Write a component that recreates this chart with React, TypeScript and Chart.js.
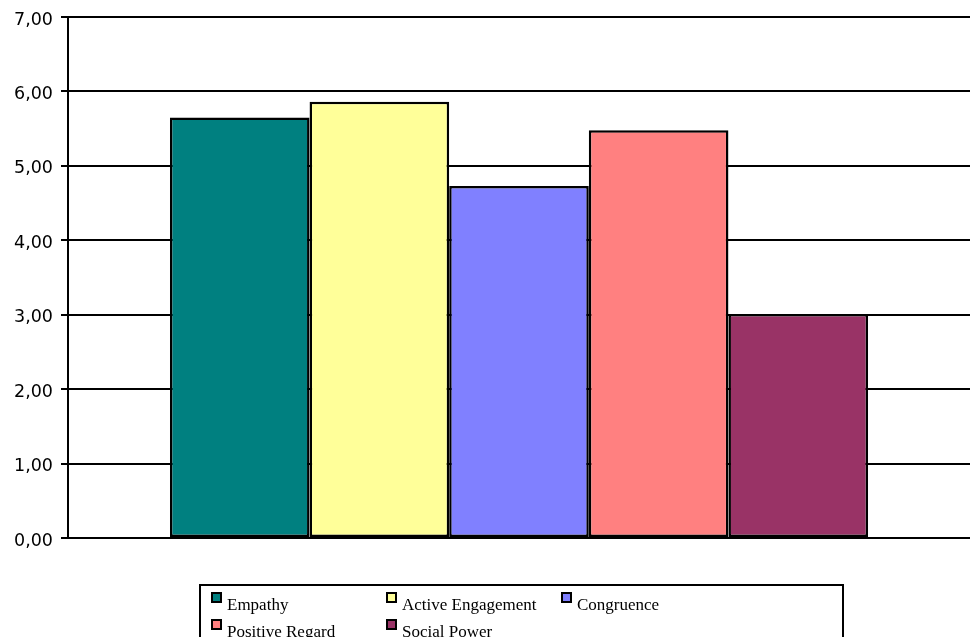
import React, { useEffect, useRef } from "react";
import { Chart, registerables } from "chart.js";

Chart.register(...registerables);

const categories = [""];
const seriesNames = ["Empathy", "Active Engagement", "Congruence", "Positive Regard", "Social Power"];
const seriesValues = [5.65, 5.86, 4.73, 5.48, 3.01];
const seriesColors = ["#008080", "#FFFF99", "#8080FF", "#FF8080", "#993366"];
const yTicks = [0, 1, 2, 3, 4, 5, 6, 7];

const formatTick = (v: number) => v.toFixed(2).replace(".", ",");

// Y value labels, set just right of the tick marks and a little below each gridline
const yLabels = {
  id: "yLabels",
  afterDraw(chart: any) {
    const ctx = chart.ctx as CanvasRenderingContext2D;
    const scale = chart.scales.y;
    ctx.save();
    ctx.font = "17.5px 'DejaVu Sans', sans-serif";
    ctx.fillStyle = "#000";
    ctx.textAlign = "right";
    ctx.textBaseline = "middle";
    scale.ticks.forEach((t: any) => {
      const y = scale.getPixelForValue(t.value);
      ctx.fillText(formatTick(t.value), scale.right - 15, y + 3);
    });
    ctx.restore();
  },
};

// Boxed legend below the plot, three items per row
const boxLegend = {
  id: "boxLegend",
  afterDraw(chart: any) {
    const ctx = chart.ctx as CanvasRenderingContext2D;
    const area = chart.chartArea;
    const left = 200;
    const right = 843;
    const top = area.bottom + 47;
    const bottom = chart.height + 1;
    ctx.save();
    ctx.strokeStyle = "#000";
    ctx.lineWidth = 2;
    ctx.strokeRect(left, top, right - left, bottom - top);

    ctx.font = "17px 'Liberation Serif', 'Times New Roman', serif";
    ctx.textBaseline = "alphabetic";
    const colW = 175;
    const rowH = 27;
    chart.data.datasets.forEach((ds: any, i: number) => {
      const col = i % 3;
      const row = Math.floor(i / 3);
      const mx = left + 12 + col * colW;
      const my = top + 8 + row * rowH;
      ctx.fillStyle = ds.backgroundColor;
      ctx.fillRect(mx, my, 9, 9);
      ctx.lineWidth = 2;
      ctx.strokeStyle = "#000";
      ctx.strokeRect(mx, my, 9, 9);
      ctx.fillStyle = "#000";
      ctx.fillText(ds.label, mx + 15, my + 17);
    });
    ctx.restore();
  },
};

export default function App() {
  const canvasRef = useRef<HTMLCanvasElement | null>(null);

  useEffect(() => {
    if (!canvasRef.current) return;
    const chart = new Chart(canvasRef.current, {
      type: "bar",
      data: {
        labels: categories,
        datasets: seriesNames.map((name, i) => ({
          label: name,
          data: [seriesValues[i]],
          backgroundColor: seriesColors[i],
          borderColor: "#000",
          borderWidth: 2.5,
          borderSkipped: false,
          categoryPercentage: 0.774,
          barPercentage: 1,
        })),
      },
      options: {
        animation: false,
        responsive: false,
        maintainAspectRatio: false,
        layout: { padding: { left: 0, right: 0, top: 17, bottom: 99 } },
        plugins: {
          legend: { display: false },
          tooltip: { enabled: false },
        },
        scales: {
          x: { display: false },
          y: {
            min: 0,
            max: 7,
            afterBuildTicks: (scale: any) => {
              scale.ticks = yTicks.map((v) => ({ value: v }));
            },
            afterFit: (scale: any) => {
              scale.width = 68;
            },
            border: { display: true, color: "#000", width: 2 },
            grid: {
              color: "#000",
              lineWidth: 2,
              drawTicks: true,
              tickLength: 7,
              tickColor: "#000",
            },
            ticks: { display: false },
          },
        },
      },
      plugins: [yLabels, boxLegend],
    });
    return () => chart.destroy();
  }, []);

  return (
    <div style={{ position: "fixed", left: 0, top: 0, width: 970, height: 637, background: "#fff" }}>
      <canvas ref={canvasRef} width={970} height={637} />
    </div>
  );
}
